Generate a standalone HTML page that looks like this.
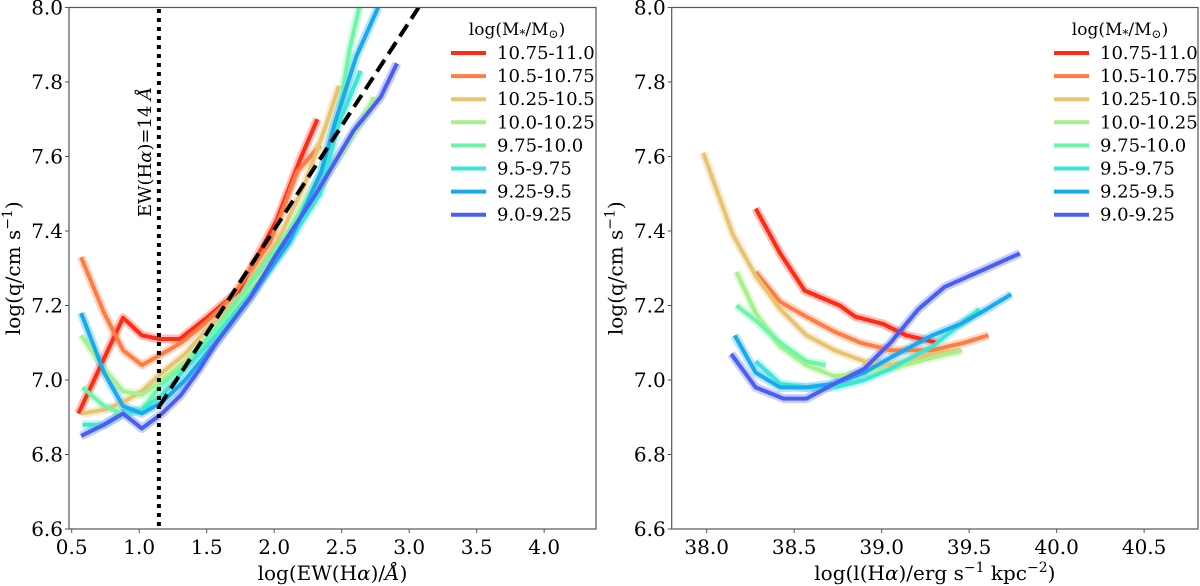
<!DOCTYPE html>
<html><head><meta charset="utf-8"><style>
html,body{margin:0;padding:0;background:#fff;}
svg{display:block;font-family:"DejaVu Serif","Liberation Serif",serif;}
</style></head><body>
<svg id="fig" width="1200" height="586" viewBox="0 0 1200 586" xmlns="http://www.w3.org/2000/svg"></svg>
<script>
const seriesNames = ["10.75-11.0","10.5-10.75","10.25-10.5","10.0-10.25","9.75-10.0","9.5-9.75","9.25-9.5","9.0-9.25"];
const seriesColors = ["#ff2b14","#ff7d45","#e8c370","#a8ef8e","#6ef5a8","#3ce6d4","#1aa8ef","#4a5ff2"];
const yTicks = [6.6,6.8,7.0,7.2,7.4,7.6,7.8,8.0];
const leftXTicks = [0.5,1.0,1.5,2.0,2.5,3.0,3.5,4.0];
const rightXTicks = [38.0,38.5,39.0,39.5,40.0,40.5];
const leftX = [
 [0.55,0.88,1.02,1.15,1.30,1.51,1.74,2.02,2.19,2.32],
 [0.57,0.74,0.88,1.02,1.17,1.31,1.48,1.68,1.97,2.17,2.34],
 [0.57,0.74,0.88,1.02,1.17,1.34,1.51,1.74,2.02,2.22,2.39,2.48],
 [0.57,0.74,0.88,1.02,1.17,1.34,1.57,1.82,2.11,2.39,2.64,2.74],
 [0.58,0.74,0.88,1.02,1.17,1.34,1.57,1.82,2.11,2.34,2.48,2.56,2.63],
 [0.58,0.74,0.88,1.02,1.17,1.34,1.57,1.82,2.11,2.34,2.48,2.64],
 [0.57,0.74,0.88,1.02,1.17,1.34,1.57,1.82,2.11,2.35,2.45,2.61,2.77],
 [0.57,0.74,0.88,1.02,1.17,1.31,1.45,1.57,1.82,2.02,2.31,2.59,2.79,2.91]
];
const leftY = [
 [6.91,7.167,7.12,7.11,7.11,7.17,7.24,7.43,7.59,7.70],
 [7.33,7.18,7.08,7.04,7.07,7.10,7.15,7.22,7.37,7.56,7.63],
 [6.91,6.92,6.94,6.97,7.02,7.07,7.14,7.22,7.37,7.52,7.69,7.79],
 [7.12,7.03,6.97,6.96,7.00,7.05,7.14,7.24,7.38,7.55,7.69,7.76],
 [6.98,6.93,6.91,6.92,6.99,7.04,7.14,7.26,7.40,7.55,7.72,7.89,8.0],
 [6.88,6.88,6.91,6.92,6.96,7.03,7.12,7.23,7.37,7.50,7.69,7.83],
 [7.18,7.02,6.93,6.91,6.94,7.00,7.10,7.22,7.37,7.56,7.69,7.87,8.0],
 [6.85,6.88,6.91,6.87,6.91,6.96,7.03,7.10,7.22,7.34,7.50,7.67,7.76,7.85]
];
const rightX = [
 [38.28,38.42,38.56,38.76,38.85,39.01,39.14,39.32],
 [38.28,38.42,38.57,38.73,38.88,39.05,39.29,39.47,39.61],
 [37.98,38.15,38.28,38.42,38.57,38.73,38.90,39.05,39.29,39.45],
 [38.17,38.28,38.42,38.57,38.73,38.90,39.05,39.29,39.46],
 [38.17,38.28,38.42,38.57,38.68],
 [38.28,38.42,38.57,38.73,38.90,39.05,39.29,39.45,39.56],
 [38.16,38.28,38.42,38.57,38.73,38.90,39.05,39.29,39.45,39.60,39.74],
 [38.14,38.28,38.44,38.57,38.73,38.90,39.05,39.21,39.36,39.60,39.79]
];
const rightY = [
 [7.46,7.34,7.24,7.20,7.17,7.15,7.12,7.10],
 [7.29,7.21,7.17,7.13,7.10,7.08,7.08,7.10,7.12],
 [7.61,7.39,7.28,7.19,7.12,7.08,7.05,7.04,7.07,7.08],
 [7.29,7.18,7.09,7.04,7.01,7.02,7.03,7.06,7.08],
 [7.20,7.16,7.10,7.05,7.04],
 [7.05,6.99,6.98,6.98,7.00,7.03,7.09,7.15,7.19],
 [7.12,7.02,6.98,6.98,6.99,7.02,7.06,7.12,7.15,7.19,7.23],
 [7.07,6.98,6.95,6.95,6.99,7.03,7.10,7.19,7.25,7.30,7.34]
];
const cutEW = [1.146];
const fitLineX = [1.15,3.07];
const fitLineY = [6.93,8.0];

const NS="http://www.w3.org/2000/svg";
const svg=document.getElementById('fig');
function mk(tag,attrs,parent){const e=document.createElementNS(NS,tag);for(const k in attrs)e.setAttribute(k,attrs[k]);(parent||svg).appendChild(e);return e;}

function panel(cfg){
  const g=mk('g',{});
  
  
  const sx=v=>cfg.x0+(v-cfg.xmin)/(cfg.xmax-cfg.xmin)*(cfg.x1-cfg.x0);
  const sy=v=>cfg.y1-(v-6.6)/(8.0-6.6)*(cfg.y1-cfg.y0);
  const clip='clip-'+cfg.name;
  const cp=mk('clipPath',{id:clip},g);
  mk('rect',{x:cfg.x0,y:cfg.y0,width:cfg.x1-cfg.x0,height:cfg.y1-cfg.y0},cp);
  const plot=mk('g',{'clip-path':'url(#'+clip+')'},g);
  cfg.xs.forEach((xs,i)=>{
    const d=xs.map((x,j)=>(j?'L':'M')+sx(x).toFixed(1)+','+sy(cfg.ys[i][j]).toFixed(1)).join('');
    const b=mk('path',{d:d,fill:'none',stroke:seriesColors[i],'stroke-width':9,'stroke-opacity':0.3,'stroke-linejoin':'round'},plot);
    
    
  });
  cfg.xs.forEach((xs,i)=>{
    const d=xs.map((x,j)=>(j?'L':'M')+sx(x).toFixed(1)+','+sy(cfg.ys[i][j]).toFixed(1)).join('');
    const l=mk('path',{d:d,fill:'none',stroke:seriesColors[i],'stroke-width':4,'stroke-linejoin':'round'},plot);
    
    
  });
  if(cfg.extra)cfg.extra(plot,sx,sy);
  const fr=mk('rect',{x:cfg.x0,y:cfg.y0,width:cfg.x1-cfg.x0,height:cfg.y1-cfg.y0,fill:'none',stroke:'#555','stroke-width':1.2},g);
  
  
  yTicks.forEach(t=>{
    const y=sy(t);
    mk('line',{x1:cfg.x0-4,x2:cfg.x0,y1:y,y2:y,stroke:'#555'},g);
    const tx=mk('text',{x:cfg.x0-6,y:y+7,'text-anchor':'end','font-size':20},g);
    tx.textContent=t.toFixed(1);
    
    
  });
  cfg.xt.forEach(t=>{
    const x=sx(t);
    mk('line',{x1:x,x2:x,y1:cfg.y1,y2:cfg.y1+4,stroke:'#555'},g);
    const tx=mk('text',{x:x,y:cfg.y1+25,'text-anchor':'middle','font-size':20},g);
    tx.textContent=t.toFixed(1);
    
    
  });
  const xl=mk('text',{x:(cfg.x0+cfg.x1)/2,y:580,'text-anchor':'middle','font-size':20},g);
  xl.innerHTML=cfg.xlabel;
  
  
  const yl=mk('text',{x:0,y:0,'text-anchor':'middle','font-size':20,transform:'translate('+(cfg.x0-49)+','+((cfg.y0+cfg.y1)/2)+') rotate(-90)'},g);
  yl.innerHTML='log(q/cm s<tspan dy="-8" font-size="14">−1</tspan><tspan dy="8">)</tspan>';
  
  
  const lg=mk('g',{},g);
  
  
  const lt=mk('text',{x:cfg.legX+66,y:35,'text-anchor':'middle','font-size':17},lg);
  lt.innerHTML='log(M<tspan dy="3" font-size="12">*</tspan><tspan dy="-3">/M</tspan><tspan dy="3" font-size="12">⊙</tspan><tspan dy="-3">)</tspan>';
  
  
  seriesNames.forEach((n,i)=>{
    const y=53+i*23.1;
    const e=mk('g',{},lg);
    
    
    mk('line',{x1:cfg.legX,x2:cfg.legX+35,y1:y,y2:y,stroke:seriesColors[i],'stroke-width':4},e);
    const t=mk('text',{x:cfg.legX+46,y:y+6,'font-size':18},e);
    t.textContent=n;
  });
}

panel({name:'left-panel',x0:69,x1:596,y0:7.5,y1:529,xmin:0.48,xmax:4.384,xs:leftX,ys:leftY,xt:leftXTicks,legX:451,
  xlabel:'log(EW(H<tspan font-style="italic">α</tspan>)/<tspan font-style="italic">Å</tspan>)',
  extra:(p,sx,sy)=>{
    const v=mk('line',{x1:sx(cutEW[0]),x2:sx(cutEW[0]),y1:0,y2:586,stroke:'#000','stroke-width':4,'stroke-dasharray':'4,5'},p);
    
    
    const f=mk('line',{x1:sx(fitLineX[0]),y1:sy(fitLineY[0]),x2:sx(fitLineX[1]),y2:sy(fitLineY[1]),stroke:'#000','stroke-width':4,'stroke-dasharray':'14,7'},p);
    
    
    const t=mk('text',{x:0,y:0,'text-anchor':'middle','font-size':18,transform:'translate('+(sx(cutEW[0])-8)+',152) rotate(-90)'},p);
    t.innerHTML='EW(H<tspan font-style="italic">α</tspan>)=14 <tspan font-style="italic">Å</tspan>';
    
    
  }});
panel({name:'right-panel',x0:671.7,x1:1198,y0:7.5,y1:529,xmin:37.8,xmax:40.808,xs:rightX,ys:rightY,xt:rightXTicks,legX:1054,
  xlabel:'log(l(H<tspan font-style="italic">α</tspan>)/erg s<tspan dy="-8" font-size="14">−1</tspan><tspan dy="8"> kpc</tspan><tspan dy="-8" font-size="14">−2</tspan><tspan dy="8">)</tspan>'});
</script>
</body></html>
